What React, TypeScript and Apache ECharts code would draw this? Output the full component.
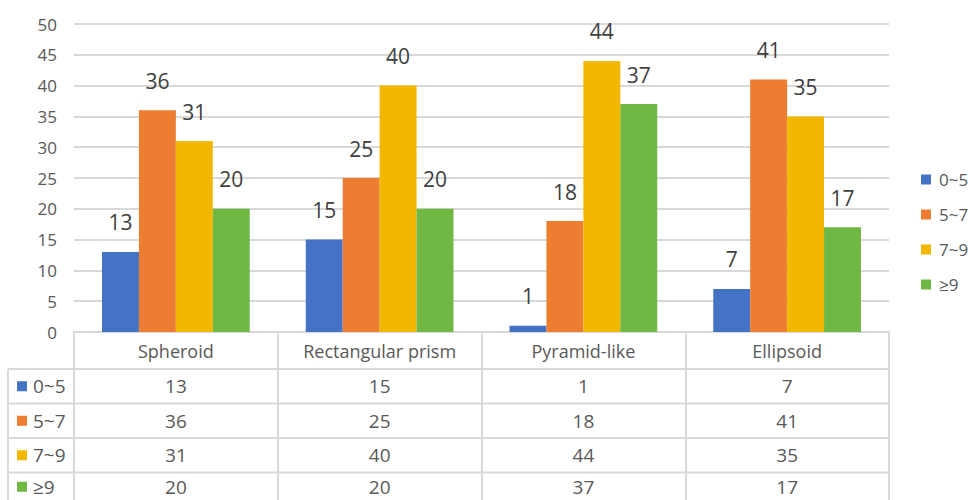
import React, { useEffect, useRef } from "react";
import * as echarts from "echarts";

const categories = ["Spheroid", "Rectangular prism", "Pyramid-like", "Ellipsoid"];
const seriesNames = ["0~5", "5~7", "7~9", "≥9"];
const colors = ["#4472C4", "#ED7D31", "#F2B800", "#70B844"];
const values0to5 = [13, 15, 1, 7];
const values5to7 = [36, 25, 18, 41];
const values7to9 = [31, 40, 44, 35];
const valuesAbove9 = [20, 20, 37, 17];
const seriesValues = [values0to5, values5to7, values7to9, valuesAbove9];

const FONT = "'Open Sans', 'Noto Sans', sans-serif";
const TEXT = "#595959";
const LINE = "#D9D9D9";

const W = 976;
const H = 500;
const GRID_LEFT = 74;
const GRID_RIGHT = 889;
const GRID_TOP = 24;
const GRID_BOTTOM = 332;
const HEADER_BOTTOM = 369;
const ROW_H = 34.5;
const TABLE_LEFT = 8;

export default function App() {
  const ref = useRef<HTMLDivElement>(null);

  useEffect(() => {
    if (!ref.current) return;
    const chart = echarts.init(ref.current, undefined, { renderer: "svg" });

    const colW = (GRID_RIGHT - GRID_LEFT) / categories.length;
    const graphic: any[] = [];

    // horizontal table rules
    for (let r = 0; r <= seriesNames.length; r++) {
      const y = HEADER_BOTTOM + r * ROW_H;
      if (y > H) break;
      graphic.push({
        type: "line",
        shape: { x1: TABLE_LEFT, y1: y, x2: GRID_RIGHT, y2: y },
        style: { stroke: LINE, lineWidth: 2 },
        silent: true,
      });
    }
    // left border of the legend column
    graphic.push({
      type: "line",
      shape: { x1: TABLE_LEFT, y1: HEADER_BOTTOM, x2: TABLE_LEFT, y2: H },
      style: { stroke: LINE, lineWidth: 2 },
      silent: true,
    });

    // row keys and cell values
    seriesNames.forEach((name, r) => {
      const last = r === seriesNames.length - 1;
      const cy = HEADER_BOTTOM + r * ROW_H + ROW_H / 2 - (last ? 3 : 0);
      graphic.push({
        type: "rect",
        shape: { x: 17, y: cy - 5, width: 10, height: 10 },
        style: { fill: colors[r] },
        silent: true,
      });
      graphic.push({
        type: "text",
        x: 33,
        y: cy,
        style: {
          text: name,
          font: `19px ${FONT}`,
          fill: TEXT,
          textVerticalAlign: "middle",
          textAlign: "left",
        },
        silent: true,
      });
      seriesValues[r].forEach((v, c) => {
        graphic.push({
          type: "text",
          x: GRID_LEFT + colW * (c + 0.5),
          y: cy,
          style: {
            text: String(v),
            font: `19px ${FONT}`,
            fill: TEXT,
            textAlign: "center",
            textVerticalAlign: "middle",
          },
          silent: true,
        });
      });
    });

    chart.setOption({
      animation: false,
      grid: {
        left: GRID_LEFT,
        right: W - GRID_RIGHT,
        top: GRID_TOP,
        bottom: H - GRID_BOTTOM,
        containLabel: false,
      },
      legend: {
        orient: "vertical",
        left: 916,
        top: 166,
        itemWidth: 10,
        itemHeight: 10,
        itemGap: 18,
        icon: "rect",
        textStyle: { fontFamily: FONT, fontSize: 17, color: TEXT, padding: [0, 0, 0, 3] },
        data: seriesNames,
      },
      xAxis: {
        type: "category",
        data: categories,
        axisLine: { show: true, lineStyle: { color: LINE, width: 2 } },
        axisTick: {
          show: true,
          length: H - GRID_BOTTOM,
          inside: false,
          lineStyle: { color: LINE, width: 2 },
        },
        axisLabel: {
          fontFamily: FONT,
          fontSize: 18,
          color: TEXT,
          margin: 9,
          lineHeight: 20,
        },
      },
      yAxis: {
        type: "value",
        min: 0,
        max: 50,
        interval: 5,
        axisLine: { show: false },
        axisTick: { show: false },
        splitLine: { lineStyle: { color: LINE, width: 2 } },
        axisLabel: { fontFamily: FONT, fontSize: 17, color: TEXT, margin: 17 },
      },
      series: seriesNames.map((name, i) => ({
        name,
        type: "bar",
        data: seriesValues[i],
        itemStyle: { color: colors[i] },
        barGap: "0%",
        barCategoryGap: "27.5%",
        label: {
          show: true,
          position: "top",
          distance: 19,
          fontFamily: FONT,
          fontSize: 21,
          color: "#404040",
        },
      })),
      graphic,
    });

    return () => chart.dispose();
  }, []);

  return <div ref={ref} style={{ width: W, height: H, position: "absolute", left: 0, top: 0 }} />;
}
